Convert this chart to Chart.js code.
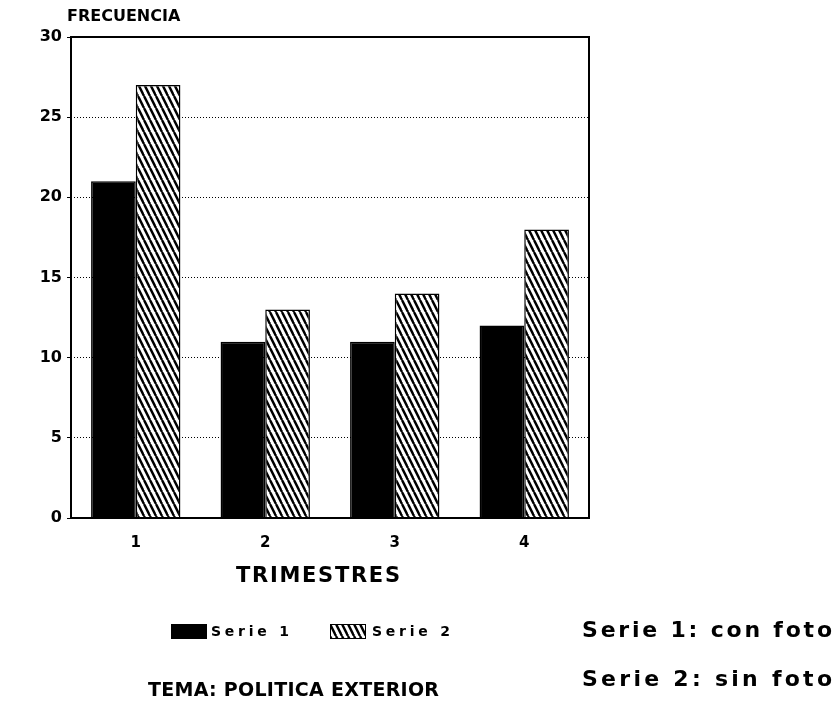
<!DOCTYPE html>
<html>
<head>
<meta charset="utf-8">
<script src="https://cdn.jsdelivr.net/npm/chart.js@4.4.1/dist/chart.umd.min.js"></script>
<style>
  html, body { margin: 0; padding: 0; background: #fff; }
  canvas { display: block; }
</style>
</head>
<body>
<canvas id="chart" width="837" height="708"></canvas>
<script>
// data
const trimestres = ['1', '2', '3', '4'];
const serie1 = [21, 11, 11, 12];   // con foto
const serie2 = [27, 13, 14, 18];   // sin foto
const yMin = 0, yMax = 30, yStep = 5;

const FONT = '"DejaVu Sans", Verdana, sans-serif';

// diagonal hatch for serie 2
function makeHatch() {
    const c = document.createElement('canvas');
    c.width = 6; c.height = 12;
    const g = c.getContext('2d');
    g.fillStyle = '#fff';
    g.fillRect(0, 0, 6, 12);
    g.strokeStyle = '#000';
    g.lineWidth = 2.4;
    for (let x0 = -6; x0 <= 6; x0 += 6) {
        g.beginPath();
        g.moveTo(x0, 0);
        g.lineTo(x0 + 6, 12);
        g.stroke();
    }
    return g.createPattern(c, 'repeat');
}
const hatch = makeHatch();

// bold text stretched to a given width with letter spacing
function spacedText(ctx, text, x, y, size, width, align) {
    ctx.save();
    ctx.font = 'bold ' + size + 'px ' + FONT;
    ctx.fillStyle = '#000';
    ctx.textBaseline = 'middle';
    ctx.letterSpacing = '0px';
    const w = ctx.measureText(text).width;
    const sp = Math.max(0, (width - w) / (text.length - 1));
    ctx.letterSpacing = sp + 'px';
    let left = x;
    if (align === 'center') left = x - width / 2;
    ctx.textAlign = 'left';
    ctx.fillText(text, left, y);
    ctx.restore();
}

const framePlugin = {
    id: 'frame',
    afterDatasetsDraw(chart) {
        const { ctx, chartArea: a } = chart;
        ctx.save();
        ctx.strokeStyle = '#000';
        ctx.lineWidth = 2;
        ctx.strokeRect(a.left, a.top, a.right - a.left, a.bottom - a.top);
        ctx.restore();
    }
};

const textPlugin = {
    id: 'texts',
    afterDraw(chart) {
        const ctx = chart.ctx;
        spacedText(ctx, 'FRECUENCIA', 67, 17, 16, 112, 'left');
        spacedText(ctx, 'TRIMESTRES', 236, 577, 21, 164, 'left');

        // legend
        const ds = chart.data.datasets;
        const items = [
            { x: 171, tx: 211, tw: 78 },
            { x: 330, tx: 372, tw: 78 }
        ];
        items.forEach((it, i) => {
            ctx.save();
            ctx.fillStyle = ds[i].backgroundColor;
            ctx.fillRect(it.x, 624, 36, 15);
            ctx.strokeStyle = '#000';
            ctx.lineWidth = 1;
            ctx.strokeRect(it.x + 0.5, 624.5, 35, 14);
            ctx.restore();
            spacedText(ctx, ds[i].label, it.tx, 632, 14, it.tw, 'left');
        });

        spacedText(ctx, 'Serie 1: con foto', 582, 631, 22, 250, 'left');
        spacedText(ctx, 'Serie 2: sin foto', 582, 680, 22, 250, 'left');
        spacedText(ctx, 'TEMA: POLITICA EXTERIOR', 148, 691, 19, 291, 'left');
    }
};

new Chart(document.getElementById('chart'), {
    type: 'bar',
    data: {
        labels: trimestres,
        datasets: [{
            label: 'Serie 1',
            data: serie1,
            backgroundColor: '#000',
            borderColor: '#000',
            borderWidth: 1.5
        }, {
            label: 'Serie 2',
            data: serie2,
            backgroundColor: hatch,
            borderColor: '#000',
            borderWidth: 1.5
        }]
    },
    options: {
        responsive: false,
        animation: false,
        categoryPercentage: 0.69,
        barPercentage: 1.0,
        layout: { padding: { top: 37, right: 248, left: 0, bottom: 0 } },
        plugins: {
            legend: { display: false },
            tooltip: { enabled: false }
        },
        scales: {
            x: {
                grid: { display: false },
                border: { display: false },
                ticks: {
                    color: '#000',
                    padding: 8,
                    font: { family: FONT, size: 15, weight: 'bold' }
                },
                afterFit(s) { s.height = 190; }
            },
            y: {
                min: yMin,
                max: yMax,
                ticks: {
                    stepSize: yStep,
                    color: '#000',
                    padding: 5,
                    font: { family: FONT, size: 16, weight: 'bold' }
                },
                grid: {
                    color: '#000',
                    lineWidth: 1,
                    tickLength: 4
                },
                border: { display: false, dash: [1, 2] },
                afterFit(s) { s.width = 71; }
            }
        }
    },
    plugins: [framePlugin, textPlugin]
});
</script>
</body>
</html>
